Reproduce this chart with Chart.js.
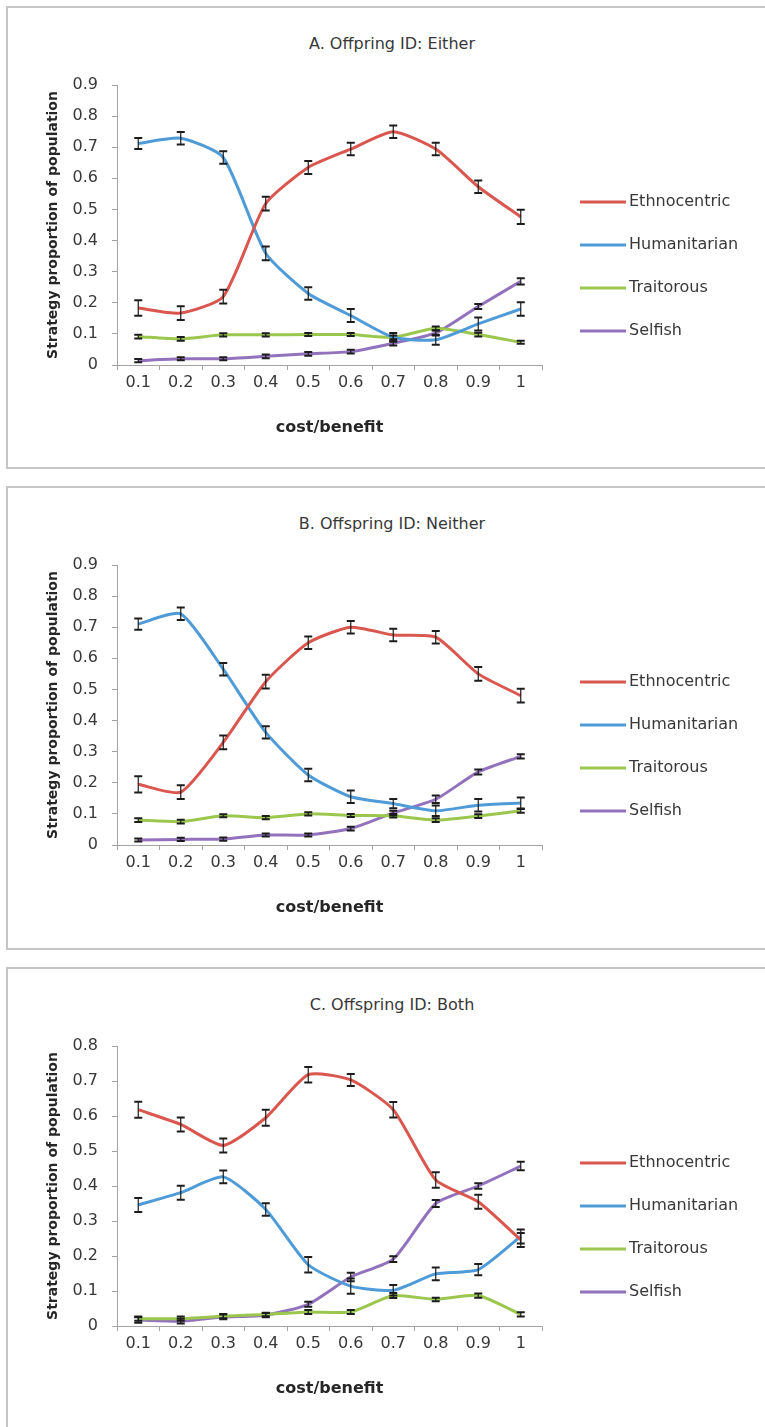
<!DOCTYPE html>
<html>
<head>
<meta charset="utf-8">
<script src="https://cdn.jsdelivr.net/npm/chart.js@4.4.1/dist/chart.umd.min.js"></script>
<style>
  html, body { margin: 0; padding: 0; background: #fff; overflow: hidden; }
  body { width: 765px; height: 1427px; position: relative; }
  .panel { position: absolute; left: 6px; width: 790px; border: 2px solid #c6c6c6; background: #fff; box-sizing: border-box; }
  .panel canvas { position: absolute; left: 0; top: 0; }
  .panel h2 {
    position: absolute; left: 0; top: 26px; width: 768px; margin: 0;
    font: normal 16px/20px "DejaVu Sans", sans-serif; color: #383838; text-align: center;
  }
</style>
</head>
<body>
<div class="panel" style="top:6px;height:463px"><h2 id="titleA"></h2><canvas id="chartA" width="786" height="459"></canvas></div>
<div class="panel" style="top:486px;height:464px"><h2 id="titleB"></h2><canvas id="chartB" width="786" height="459"></canvas></div>
<div class="panel" style="top:967px;height:480px"><h2 id="titleC"></h2><canvas id="chartC" width="786" height="459"></canvas></div>
<script>
const costBenefit = ['0.1', '0.2', '0.3', '0.4', '0.5', '0.6', '0.7', '0.8', '0.9', '1'];
const strategies = ['Ethnocentric', 'Humanitarian', 'Traitorous', 'Selfish'];
const strategyColors = ['#d9574e', '#4e9bd8', '#9bc74f', '#9272bc'];

// A. Offpring ID: Either
const ethnoA = [0.183, 0.167, 0.22, 0.519, 0.635, 0.694, 0.75, 0.694, 0.573, 0.476];
const humanA = [0.712, 0.729, 0.667, 0.359, 0.23, 0.159, 0.089, 0.081, 0.132, 0.18];
const traitA = [0.091, 0.084, 0.097, 0.097, 0.098, 0.098, 0.089, 0.118, 0.098, 0.073];
const selfA = [0.014, 0.02, 0.02, 0.028, 0.036, 0.043, 0.07, 0.103, 0.188, 0.269];
const ethnoErrA = [0.025, 0.022, 0.022, 0.022, 0.021, 0.02, 0.02, 0.02, 0.02, 0.023];
const humanErrA = [0.018, 0.02, 0.02, 0.022, 0.02, 0.021, 0.014, 0.016, 0.021, 0.022];
const traitErrA = [0.006, 0.006, 0.005, 0.005, 0.005, 0.005, 0.006, 0.006, 0.006, 0.005];
const selfErrA = [0.005, 0.005, 0.005, 0.006, 0.006, 0.006, 0.007, 0.008, 0.008, 0.01];

// B. Offspring ID: Neither
const ethnoB = [0.195, 0.17, 0.33, 0.525, 0.65, 0.70, 0.675, 0.668, 0.55, 0.48];
const humanB = [0.71, 0.743, 0.565, 0.362, 0.225, 0.155, 0.133, 0.11, 0.128, 0.135];
const traitB = [0.08, 0.075, 0.094, 0.088, 0.10, 0.095, 0.094, 0.08, 0.093, 0.11];
const selfB = [0.016, 0.018, 0.019, 0.032, 0.032, 0.053, 0.103, 0.147, 0.235, 0.285];
const ethnoErrB = [0.026, 0.022, 0.022, 0.022, 0.02, 0.02, 0.02, 0.02, 0.022, 0.022];
const humanErrB = [0.018, 0.02, 0.02, 0.02, 0.02, 0.02, 0.015, 0.017, 0.02, 0.018];
const traitErrB = [0.006, 0.006, 0.005, 0.005, 0.005, 0.005, 0.006, 0.006, 0.006, 0.006];
const selfErrB = [0.005, 0.005, 0.005, 0.005, 0.005, 0.006, 0.007, 0.012, 0.008, 0.007];

// C. Offspring ID: Both
const ethnoC = [0.618, 0.576, 0.516, 0.595, 0.718, 0.703, 0.618, 0.417, 0.355, 0.246];
const humanC = [0.346, 0.381, 0.426, 0.333, 0.175, 0.114, 0.102, 0.149, 0.161, 0.256];
const traitC = [0.021, 0.021, 0.028, 0.033, 0.04, 0.04, 0.087, 0.076, 0.087, 0.033];
const selfC = [0.017, 0.014, 0.026, 0.031, 0.062, 0.14, 0.191, 0.35, 0.40, 0.457];
const ethnoErrC = [0.023, 0.02, 0.02, 0.023, 0.022, 0.017, 0.022, 0.022, 0.02, 0.02];
const humanErrC = [0.02, 0.02, 0.018, 0.018, 0.022, 0.022, 0.015, 0.018, 0.016, 0.02];
const traitErrC = [0.006, 0.006, 0.006, 0.005, 0.006, 0.006, 0.007, 0.005, 0.006, 0.006];
const selfErrC = [0.008, 0.007, 0.007, 0.006, 0.007, 0.012, 0.008, 0.01, 0.008, 0.012];

Chart.defaults.font.family = '"DejaVu Sans", sans-serif';

const axisColor = '#a3a3a3';
const textColor = '#383838';

// vertical error bars with caps, drawn from the dataset's errors array
const errorBars = {
    id: 'errorBars',
    afterDatasetsDraw(chart) {
        const ctx = chart.ctx;
        const yScale = chart.scales.y;
        ctx.save();
        ctx.strokeStyle = '#1c1c1c';
        chart.data.datasets.forEach((ds, i) => {
            chart.getDatasetMeta(i).data.forEach((pt, j) => {
                const top = yScale.getPixelForValue(ds.data[j] + ds.errors[j]);
                const bot = yScale.getPixelForValue(ds.data[j] - ds.errors[j]);
                ctx.lineWidth = 1.2;
                ctx.beginPath();
                ctx.moveTo(pt.x, top);
                ctx.lineTo(pt.x, bot);
                ctx.stroke();
                ctx.lineWidth = 2;
                ctx.beginPath();
                ctx.moveTo(pt.x - 4, top);
                ctx.lineTo(pt.x + 4, top);
                ctx.moveTo(pt.x - 4, bot);
                ctx.lineTo(pt.x + 4, bot);
                ctx.stroke();
            });
        });
        ctx.restore();
    }
};

// Excel-like legend to the right of the plot
const sideLegend = {
    id: 'sideLegend',
    afterDraw(chart) {
        const {ctx, chartArea} = chart;
        ctx.save();
        ctx.font = '16px "DejaVu Sans"';
        ctx.textBaseline = 'middle';
        ctx.fillStyle = textColor;
        chart.data.datasets.forEach((ds, i) => {
            const y = chartArea.top + 117 + i * 43;
            const x = chartArea.right + 38;
            ctx.strokeStyle = ds.borderColor;
            ctx.lineWidth = 3;
            ctx.beginPath();
            ctx.moveTo(x, y);
            ctx.lineTo(x + 46, y);
            ctx.stroke();
            ctx.fillText(ds.label, x + 49, y);
        });
        ctx.restore();
    }
};

function createChart(canvasId, titleId, title, series, errors, yMax) {
    document.getElementById(titleId).textContent = title;
    const ctx = document.getElementById(canvasId).getContext('2d');
    return new Chart(ctx, {
        type: 'line',
        data: {
            labels: costBenefit,
            datasets: strategies.map((name, i) => ({
                label: name,
                data: series[i],
                errors: errors[i],
                borderColor: strategyColors[i],
                backgroundColor: strategyColors[i],
                borderWidth: 3,
                pointRadius: 0,
                tension: 0.2,
                fill: false
            }))
        },
        options: {
            responsive: false,
            animation: false,
            layout: {
                padding: { left: 0, top: 77, right: 252, bottom: 0 }
            },
            scales: {
                x: {
                    offset: true,
                    grid: { offset: true, drawOnChartArea: false, tickLength: 5, color: axisColor },
                    border: { color: axisColor },
                    ticks: { color: textColor, font: { size: 16 }, padding: 3, maxRotation: 0, autoSkip: false },
                    title: {
                        display: true,
                        text: 'cost/benefit',
                        color: '#262626',
                        font: { size: 16, weight: 'bold' },
                        padding: { top: 4, bottom: 29.4 }
                    },
                    afterFit: (scale) => { scale.height = 102; }
                },
                y: {
                    min: 0,
                    max: yMax,
                    grid: { drawOnChartArea: false, tickLength: 5, color: axisColor },
                    border: { color: axisColor },
                    ticks: { stepSize: 0.1, color: textColor, font: { size: 16 }, padding: 14 },
                    title: {
                        display: true,
                        text: 'Strategy proportion of population',
                        color: '#262626',
                        font: { size: 14, weight: 'bold' },
                        padding: { top: 36.6, bottom: 0 }
                    },
                    afterFit: (scale) => { scale.width = 109; }
                }
            },
            plugins: {
                legend: { display: false },
                tooltip: { enabled: false },
                title: { display: false }
            }
        },
        plugins: [errorBars, sideLegend]
    });
}

createChart('chartA', 'titleA', 'A. Offpring ID: Either',
    [ethnoA, humanA, traitA, selfA], [ethnoErrA, humanErrA, traitErrA, selfErrA], 0.9);
createChart('chartB', 'titleB', 'B. Offspring ID: Neither',
    [ethnoB, humanB, traitB, selfB], [ethnoErrB, humanErrB, traitErrB, selfErrB], 0.9);
createChart('chartC', 'titleC', 'C. Offspring ID: Both',
    [ethnoC, humanC, traitC, selfC], [ethnoErrC, humanErrC, traitErrC, selfErrC], 0.8);
</script>
</body>
</html>
